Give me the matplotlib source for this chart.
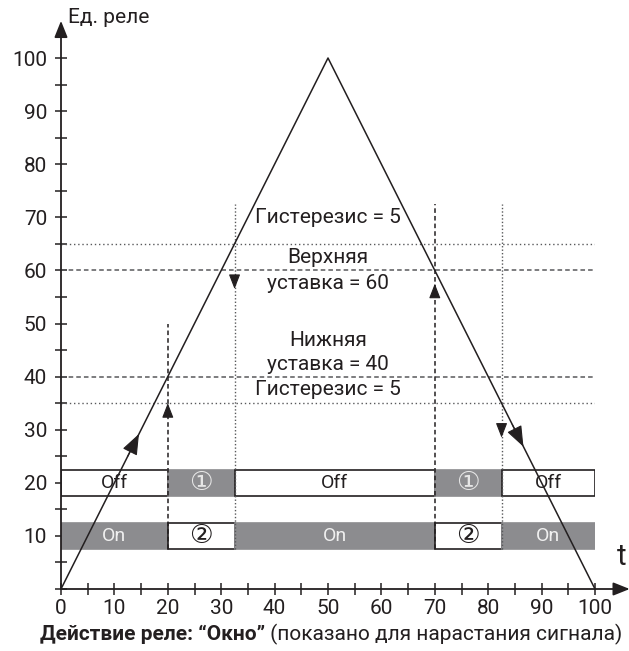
import matplotlib.pyplot as plt
from matplotlib.ticker import MultipleLocator

plt.rcParams['font.family'] = ['Roboto', 'DejaVu Sans']

# signal (triangle)
t = [0, 50, 100]
signal = [0, 100, 0]

# setpoint / hysteresis levels
dashed_levels = [60, 40]
dotted_levels = [65, 35]

# switching moments
dashed_switch = [20, 70]
dashed_top = [50, 72.5]
dotted_switch = [32.5, 82.5]
dotted_top = [72.5, 72.5]

# relay state rows
edges = [0, 20, 32.5, 70, 82.5, 100]
off_labels = ["Off", "①", "Off", "①", "Off"]
on_labels = ["On", "②", "On", "②", "On"]
off_row_gray = [False, True, False, True, False]

ink = "#231f20"
gray = "#8c8c8f"
line_gray = "#58595b"

fig = plt.figure(figsize=(6.29, 6.51), dpi=100)
ax = fig.add_axes([61 / 629, 1 - 589 / 651, 534 / 629, 531 / 651])
ax.set_xlim(0, 100)
ax.set_ylim(0, 100)
for s in ax.spines.values():
    s.set_visible(False)

# horizontal threshold lines
for y in dashed_levels:
    ax.plot([0, 100.4], [y, y], color=line_gray, lw=1.1, ls=(0, (3, 2)), zorder=2)
for y in dotted_levels:
    ax.plot([0, 100.4], [y, y], color=line_gray, lw=1.0, ls=(0, (1, 2)), zorder=2)


def label_size(s):
    return 19 if s in ("①", "②") else 14


# state bars
lefts = edges[:-1]
widths = [b - a for a, b in zip(edges[:-1], edges[1:])]
for i in range(len(lefts)):
    g = off_row_gray[i]
    mid = lefts[i] + widths[i] / 2
    # Off row
    ax.barh(20, widths[i], left=lefts[i], height=5,
            color=gray if g else "white", edgecolor=gray if g else ink,
            linewidth=1.2, zorder=3)
    ax.text(mid, 20, off_labels[i], ha="center", va="center",
            fontsize=label_size(off_labels[i]),
            color="#e6e6e6" if g else ink, zorder=5)
    # On row (inverse)
    ax.barh(10, widths[i], left=lefts[i], height=5,
            color="white" if g else gray, edgecolor=ink if g else gray,
            linewidth=1.2, zorder=3)
    ax.text(mid, 10, on_labels[i], ha="center", va="center",
            fontsize=label_size(on_labels[i]),
            color=ink if g else "#f0f0f0", zorder=5)

# vertical switching lines
for x, top in zip(dashed_switch, dashed_top):
    ax.plot([x, x], [7.5, top], color=ink, lw=1.1, ls=(0, (3, 2)), zorder=4)
for x, top in zip(dotted_switch, dotted_top):
    ax.plot([x, x], [7.5, top], color=line_gray, lw=1.0, ls=(0, (1, 1.5)), zorder=4)

# small arrowheads on switching lines: (x, tip, direction)
small_arrows = [(20, 35, 1), (32.5, 56.5, -1), (70, 57.5, 1), (82.5, 28.5, -1)]
for x, tip, d in small_arrows:
    ax.annotate("", xy=(x, tip), xytext=(x, tip - d * 2.2),
                arrowprops=dict(arrowstyle="-|>,head_length=0.9,head_width=0.35",
                                color=ink, lw=0.8, shrinkA=0, shrinkB=0), zorder=6)

# signal line
ax.plot(t, signal, color=ink, lw=1.1, zorder=6, clip_on=False)
# direction arrows on the signal
ax.annotate("", xy=(14.6, 29.2), xytext=(12.5, 25),
            arrowprops=dict(arrowstyle="-|>,head_length=1.3,head_width=0.5",
                            color=ink, lw=0.8, shrinkA=0, shrinkB=0), zorder=7)
ax.annotate("", xy=(86.6, 26.8), xytext=(84.5, 31),
            arrowprops=dict(arrowstyle="-|>,head_length=1.3,head_width=0.5",
                            color=ink, lw=0.8, shrinkA=0, shrinkB=0), zorder=7)

# axes with arrows
ax.annotate("", xy=(0, 107), xytext=(0, 0),
            arrowprops=dict(arrowstyle="-|>,head_length=1.0,head_width=0.4",
                            color=ink, lw=1.3, shrinkA=0, shrinkB=0),
            annotation_clip=False)
ax.annotate("", xy=(106.5, 0), xytext=(0, 0),
            arrowprops=dict(arrowstyle="-|>,head_length=1.0,head_width=0.4",
                            color=ink, lw=1.3, shrinkA=0, shrinkB=0),
            annotation_clip=False)

ax.set_xticks(range(0, 101, 10))
ax.set_yticks(range(10, 101, 10))
ax.xaxis.set_minor_locator(MultipleLocator(5))
ax.yaxis.set_minor_locator(MultipleLocator(5))
ax.tick_params(which="both", direction="inout", length=8, width=1.1, color=ink)
ax.tick_params(axis="y", labelsize=15, labelcolor=ink, pad=6)
ax.tick_params(axis="x", labelsize=15, labelcolor=ink, pad=3)

ax.text(1.3, 107.7, "Ед. реле", fontsize=15, color=ink, ha="left", va="center",
        clip_on=False)
ax.text(105, 6, "t", fontsize=21, color=ink, ha="center", va="center",
        clip_on=False)

# annotations
txt = dict(ha="center", va="center", fontsize=15, color=ink, zorder=5)
ax.text(50, 70, "Гистерезис = 5", **txt)
ax.text(50, 62.4, "Верхняя", **txt)
ax.text(50, 57.6, "уставка = 60", **txt)
ax.text(50, 46.8, "Нижняя", **txt)
ax.text(50, 42.2, "уставка = 40", **txt)
ax.text(50, 37.6, "Гистерезис = 5", **txt)

# caption: bold part followed by regular part
cap = fig.text(40 / 629, 1 - 634 / 651, "Действие реле: “Окно”", fontsize=15,
               fontweight="bold", color=ink, ha="left", va="center")
ax.annotate(" (показано для нарастания сигнала)", xy=(1, 0.5), xycoords=cap,
            fontsize=15, color=ink, ha="left", va="center", annotation_clip=False)

fig.savefig("out.png", dpi=100)
